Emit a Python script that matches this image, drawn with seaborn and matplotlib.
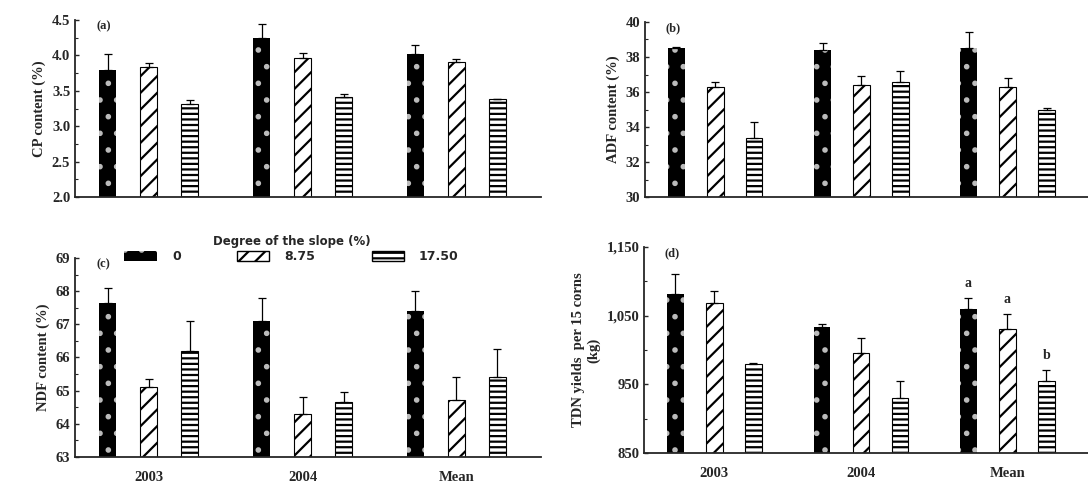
import matplotlib.pyplot as plt
import numpy as np
import pandas as pd
import seaborn as sns
from matplotlib.patches import Patch
from matplotlib.ticker import MultipleLocator, FuncFormatter

# ---- data ----
groups = ['2003', '2004', 'Mean']
slopes = ['0', '8.75', '17.50']

cp_mean = [[3.79, 4.25, 4.02], [3.83, 3.97, 3.91], [3.32, 3.42, 3.38]]
cp_err = [[0.23, 0.20, 0.13], [0.07, 0.07, 0.04], [0.05, 0.04, 0.01]]

adf_mean = [[38.5, 38.4, 38.5], [36.3, 36.4, 36.3], [33.4, 36.6, 35.0]]
adf_err = [[0.05, 0.4, 0.9], [0.3, 0.5, 0.5], [0.9, 0.6, 0.1]]

ndf_mean = [[67.65, 67.1, 67.4], [65.1, 64.3, 64.7], [66.2, 64.65, 65.4]]
ndf_err = [[0.45, 0.7, 0.6], [0.25, 0.5, 0.7], [0.9, 0.32, 0.85]]

tdn_mean = [[1082, 1033, 1060], [1068, 995, 1031], [980, 930, 954]]
tdn_err = [[28, 5, 15], [18, 22, 21], [1, 25, 16]]
tdn_letters = ['a', 'a', 'b']

hatches = ['.', '//', '---']


def make_df(means, errs):
    rows = []
    for si, s in enumerate(slopes):
        for gi, g in enumerate(groups):
            rows.append({'group': g, 'slope': s, 'value': means[si][gi], 'err': errs[si][gi]})
    return pd.DataFrame(rows)


def draw_panel(ax, df, ylim, major, minor, ylabel, tag, fmt=None, xlabels=True, offset=0):
    sns.barplot(data=df, x='group', y='value', hue='slope', order=groups, hue_order=slopes,
                width=0.8, gap=0.58, dodge=True, ax=ax, legend=False,
                palette=['black', 'white', 'white'], saturation=1, errorbar=None)
    bar_conts = list(ax.containers)
    tops = []
    for i, cont in enumerate(bar_conts):
        sub = df[df['slope'] == slopes[i]].set_index('group').loc[groups]
        xs = [b.get_x() + b.get_width() / 2 for b in cont]
        for b in cont:
            if i == 0:
                b.set_facecolor('black')
                b.set_edgecolor('#bbbbbb')
                b.set_linewidth(0)
            else:
                b.set_facecolor('white')
                b.set_edgecolor('black')
                b.set_linewidth(0.8)
            b.set_hatch(hatches[i])
        ax.errorbar(xs, sub['value'], yerr=[np.zeros(len(xs)), sub['err']], fmt='none',
                    ecolor='black', elinewidth=0.9, capsize=3, capthick=0.9)
        tops.append((xs, (sub['value'] + sub['err']).values))
    ax.set_ylim(*ylim)
    ax.set_xlim(-0.48, 2.55)
    ax.yaxis.set_major_locator(MultipleLocator(major, offset=offset))
    ax.yaxis.set_minor_locator(MultipleLocator(minor))
    if fmt:
        ax.yaxis.set_major_formatter(FuncFormatter(fmt))
    ax.tick_params(axis='y', which='major', direction='in', length=3, width=1, labelsize=10.5)
    ax.tick_params(axis='y', which='minor', direction='in', length=2, width=0.8)
    ax.tick_params(axis='x', length=0, labelsize=10.5, pad=10)
    if not xlabels:
        ax.set_xticklabels([])
    ax.set_xlabel('')
    ax.set_ylabel(ylabel, fontsize=10.5, fontweight='bold')
    ax.text(0.045, 1.0, tag, transform=ax.transAxes, va='top', ha='left',
            fontsize=9, fontweight='bold')
    for sp in ['top', 'right']:
        ax.spines[sp].set_visible(False)
    for sp in ['left', 'bottom']:
        ax.spines[sp].set_linewidth(1.3)
    for lab in ax.get_xticklabels() + ax.get_yticklabels():
        lab.set_fontweight('bold')
    return tops


sns.set_style('ticks')
plt.rcParams['font.family'] = ['Liberation Serif', 'DejaVu Serif']
plt.rcParams['hatch.linewidth'] = 1.6

fig = plt.figure(figsize=(10.88, 4.88), dpi=100)
ax_a = fig.add_axes([0.069, 0.596, 0.428, 0.363])
ax_b = fig.add_axes([0.593, 0.596, 0.407, 0.359])
ax_c = fig.add_axes([0.069, 0.064, 0.428, 0.407])
ax_d = fig.add_axes([0.592, 0.072, 0.408, 0.422])

draw_panel(ax_a, make_df(cp_mean, cp_err), (2.0, 4.5), 0.5, 0.25,
           'CP content (%)', '(a)', fmt=lambda v, p: f'{v:.1f}', xlabels=False)
draw_panel(ax_b, make_df(adf_mean, adf_err), (30, 40), 2, 1,
           'ADF content (%)', '(b)', fmt=lambda v, p: f'{v:.0f}', xlabels=False)
draw_panel(ax_c, make_df(ndf_mean, ndf_err), (63, 69), 1, 0.5,
           'NDF content (%)', '(c)', fmt=lambda v, p: f'{v:.0f}')
tops = draw_panel(ax_d, make_df(tdn_mean, tdn_err), (850, 1150), 100, 50,
                  'TDN yields  per 15 corns\n(kg)', '(d)', fmt=lambda v, p: f'{v:,.0f}',
                  offset=50)

# significance letters over the Mean group
for i, letter in enumerate(tdn_letters):
    xs, ys = tops[i]
    ax_d.text(xs[2], ys[2] + 12, letter, ha='center', va='bottom', fontsize=10, fontweight='bold')

handles = [Patch(facecolor='black', edgecolor='#bbbbbb', hatch=hatches[0], linewidth=0),
           Patch(facecolor='white', edgecolor='black', hatch=hatches[1]),
           Patch(facecolor='white', edgecolor='black', hatch=hatches[2])]
lgd = fig.legend(handles, slopes, ncol=3, frameon=False, loc='center',
                 bbox_to_anchor=(0.268, 0.49), title='Degree of the slope (%)',
                 prop={'family': 'DejaVu Sans', 'weight': 'bold', 'size': 9},
                 handlelength=2.6, handleheight=0.8, columnspacing=4.5, handletextpad=1.2,
                 borderpad=0.1, labelspacing=0.2)
lgd.get_title().set_fontweight('bold')
lgd.get_title().set_fontfamily('DejaVu Sans')
lgd.get_title().set_fontsize(8.5)

fig.savefig('out.png', dpi=100)
